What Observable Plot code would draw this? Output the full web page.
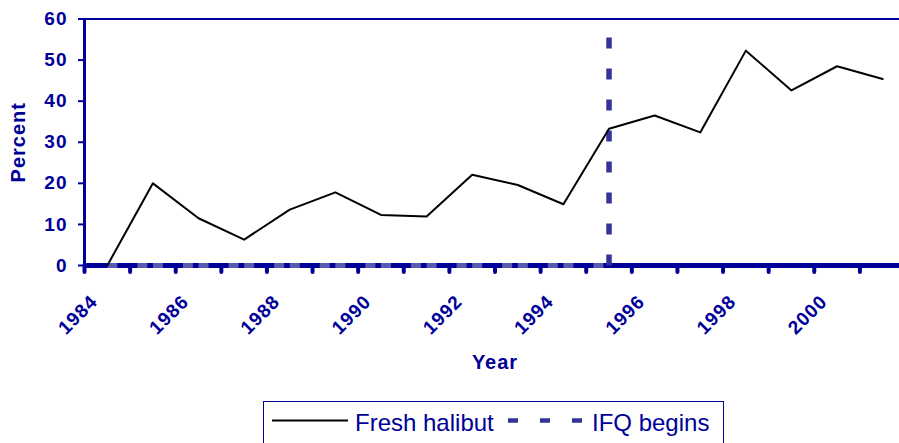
<!DOCTYPE html>
<html>
<head>
<meta charset="utf-8">
<script src="https://cdn.jsdelivr.net/npm/d3@7"></script>
<script src="https://cdn.jsdelivr.net/npm/@observablehq/plot@0.6"></script>
<style>
  html, body { margin: 0; padding: 0; background: #fff; }
  #wrap { position: relative; width: 899px; height: 443px; overflow: hidden; font-family: "Liberation Sans", Arial, sans-serif; }
  #chart svg text { letter-spacing: 1px; }
  #legend { position: absolute; left: 263px; top: 401px; width: 461px; height: 60px; box-sizing: border-box; border: 1.5px solid #000099; }
  #legend .t { position: absolute; top: 7px; font-size: 24px; color: #000099; line-height: 28px; white-space: nowrap; }
  #legend svg { position: absolute; top: 0; left: 0; }
</style>
</head>
<body>
<div id="wrap">
  <div id="chart"></div>
  <div id="legend">
    <svg width="461" height="40">
      <line x1="8" x2="84" y1="18.5" y2="18.5" stroke="#000" stroke-width="2"/>
      <line x1="244" x2="320" y1="18.5" y2="18.5" stroke="#333399" stroke-width="4.5" stroke-dasharray="10,22"/>
    </svg>
    <span class="t" style="left:91px">Fresh halibut</span>
    <span class="t" style="left:328px">IFQ begins</span>
  </div>
</div>
<script>
const years = [1984,1985,1986,1987,1988,1989,1990,1991,1992,1993,1994,1995,1996,1997,1998,1999,2000,2001];
const freshHalibut = [0,20,11.5,6.3,13.6,17.8,12.3,11.9,22.1,19.6,14.9,33.3,36.5,32.4,52.3,42.6,48.5,45.4];
const ifqYears = [1984,1985,1986,1987,1988,1989,1990,1991,1992,1993,1994,1995,1995];
const ifqValues = [0,0,0,0,0,0,0,0,0,0,0,0,60];
const labelYears = [1984,1986,1988,1990,1992,1994,1996,1998,2000];
const yTicks = [0,10,20,30,40,50,60];
const categoryEdges = d3.range(1983.5, 2002, 1);

const navy = "#000099";
const fresh = years.map((y, i) => ({year: y, value: freshHalibut[i]}));
// each IFQ segment drawn separately so its dash pattern restarts (as in the original)
const ifqSegments = ifqYears.slice(1).map((y, i) => ({
  x1: ifqYears[i], y1: ifqValues[i], x2: y, y2: ifqValues[i + 1]
}));

const chart = Plot.plot({
  width: 899,
  height: 398,
  marginLeft: 84,
  marginRight: -6,
  marginTop: 18.5,
  marginBottom: 133,
  style: {fontFamily: "'Liberation Sans', Arial, sans-serif", background: "white", overflow: "hidden"},
  x: {type: "linear", domain: [1983.5, 2001.5]},
  y: {domain: [0, 60]},
  marks: [
    Plot.ruleY([60], {stroke: navy, strokeWidth: 2}),
    Plot.axisY({ticks: yTicks, tickSize: 6, tickPadding: 11, fontSize: 19, fontWeight: "bold",
      fill: navy, stroke: navy, strokeWidth: 2, strokeOpacity: 1, label: null}),
    Plot.ruleX([1983.5], {stroke: navy, strokeWidth: 3}),
    Plot.axisX({ticks: categoryEdges, tickSize: 7, tickFormat: () => "", stroke: navy,
      strokeWidth: 4, strokeOpacity: 1, strokeLinecap: "round", label: null}),
    Plot.ruleY([0], {stroke: navy, strokeWidth: 5}),
    Plot.link(ifqSegments, {filter: d => d.y1 === 0 && d.y2 === 0, x1: "x1", y1: "y1", x2: "x2", y2: "y2",
      stroke: "#5a5ab0", strokeWidth: 5, strokeDasharray: "10,20", strokeLinecap: "butt"}),
    Plot.link(ifqSegments, {filter: d => d.y1 !== d.y2, x1: "x1", y1: "y1", x2: "x2", y2: "y2",
      stroke: "#333399", strokeWidth: 5.5, strokeDasharray: "11,20", strokeLinecap: "butt"}),
    Plot.line(fresh, {x: "year", y: "value", stroke: "#000", strokeWidth: 2}),
    Plot.text(labelYears, {x: d => d, frameAnchor: "bottom", text: d => String(d), rotate: -45,
      textAnchor: "end", lineAnchor: "middle", dx: -13, dy: 33, fontSize: 19, fontWeight: "bold", fill: navy}),
    Plot.text(["Percent"], {frameAnchor: "left", dx: -66, rotate: -90, textAnchor: "middle", lineAnchor: "middle",
      fontSize: 20, fontWeight: "bold", fill: navy}),
    Plot.text(["Year"], {frameAnchor: "bottom", dy: 97, textAnchor: "middle", lineAnchor: "middle",
      fontSize: 20, fontWeight: "bold", fill: navy})
  ]
});
document.getElementById("chart").appendChild(chart);
</script>
</body>
</html>
